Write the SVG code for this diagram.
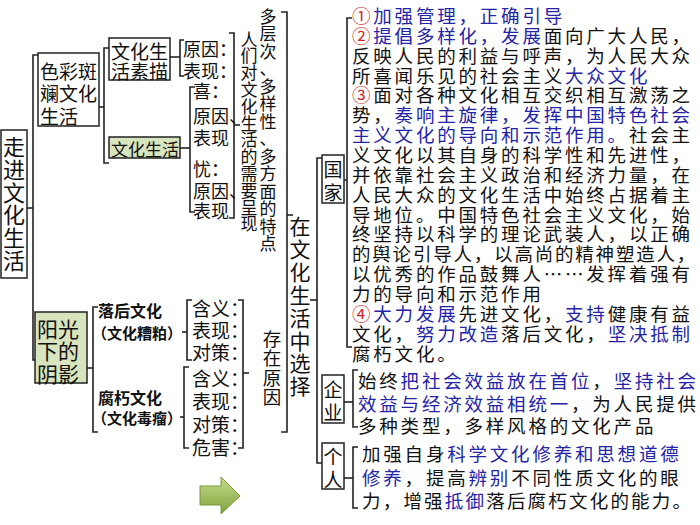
<svg xmlns="http://www.w3.org/2000/svg" width="700" height="525" viewBox="0 0 700 525">
<style>
.ln{fill:none;stroke:#222;stroke-width:1.6}
.box{fill:#fff;stroke:#222;stroke-width:1.5}
.gbox{fill:#d7e4bd;stroke:#222;stroke-width:1.5}
text{font-family:"Noto Sans CJK SC","Noto Sans CJK JP",sans-serif;fill:#111;dominant-baseline:central}
.v{text-anchor:middle}
.p{font-size:18.5px;letter-spacing:2.8px}
.pt{font-size:18.5px;letter-spacing:2.2px}
.pn{font-size:18.5px;letter-spacing:1.8px}
.b{fill:#2424a8}
.r{fill:#d02828}
.k{font-weight:bold}
</style>
<defs>
<linearGradient id="ga" x1="0" y1="0" x2="0" y2="1">
<stop offset="0" stop-color="#c6dc8e"/>
<stop offset="1" stop-color="#7fa33a"/>
</linearGradient>
</defs>
<rect width="700" height="525" fill="#fff"/>

<g id="connectors">
<path class="ln" d="M38 55 H33 V360 H36"/>
<path class="ln" d="M27 208 H33"/>
<path class="ln" d="M99 107 H104"/>
<path class="ln" d="M109 48 H104 V163 H109"/>
<path class="ln" d="M170 57 H180"/>
<path class="ln" d="M184 40 H180 V76 H184"/>
<path class="ln" d="M180 148 H190"/>
<path class="ln" d="M195 87 H190 V212 H195"/>
<path class="ln" d="M229 33 H234 V218 H229"/>
<path class="ln" d="M234 125 H240"/>
<path class="ln" d="M281 12 H287 V432 H281"/>
<path class="ln" d="M287 215 H293"/>
<path class="ln" d="M310 300 H317"/>
<path class="ln" d="M322 158 H317 V463 H322"/>
<path class="ln" d="M352 18 H347 V347 H352"/>
<path class="ln" d="M344 180 H347"/>
<path class="ln" d="M358 370 H353 V427 H358"/>
<path class="ln" d="M344 402 H353"/>
<path class="ln" d="M358 447 H353 V508 H358"/>
<path class="ln" d="M344 478 H353"/>
<path class="ln" d="M87 368 H93"/>
<path class="ln" d="M98 307 H93 V432 H98"/>
<path class="ln" d="M182 332 H187"/>
<path class="ln" d="M192 300 H187 V360 H192"/>
<path class="ln" d="M180 417 H184"/>
<path class="ln" d="M189 367 H184 V448 H189"/>
<path class="ln" d="M238 300 H243 V448 H238"/>
<path class="ln" d="M243 373 H249"/>
</g>

<g id="title">
<rect class="box" x="1" y="130" width="26" height="148"/>
<text class="v" font-size="22" x="14 14 14 14 14 14" y="145 168 191 213 236 259">走进文化生活</text>
</g>

<g id="secai">
<rect class="box" x="38" y="53" width="61" height="73"/>
<text font-size="19" x="40" y="70">色彩斑</text>
<text font-size="19" x="40" y="92">斓文化</text>
<text font-size="19" x="40" y="115">生活</text>
</g>

<g id="sumiao">
<rect class="box" x="109" y="38" width="61" height="42"/>
<text font-size="19" x="111" y="50">文化生</text>
<text font-size="19" x="111" y="70">活素描</text>
</g>

<g id="sumiao-items">
<text font-size="18" x="183" y="48">原因：</text>
<text font-size="18" x="183" y="70">表现：</text>
</g>

<g id="wenhuashenghuo">
<rect class="gbox" x="109" y="137" width="71" height="21"/>
<text font-size="17" x="111" y="148">文化生活</text>
</g>

<g id="xiyou">
<text font-size="18" x="193" y="90">喜：</text>
<text font-size="18" x="193" y="115">原因、</text>
<text font-size="18" x="193" y="137">表现</text>
<text font-size="18" x="193" y="168">忧：</text>
<text font-size="18" x="193" y="190">原因、</text>
<text font-size="18" x="193" y="210">表现</text>
</g>

<g id="xuyao">
<text class="v" font-size="17" x="249 249 249 249 249 249 249 249 249 249 249 249" y="38 54.8 71.6 88.4 105.2 122 138.8 155.6 172.4 189.2 206 222.8">人们对文化生活的需要呈现</text>
</g>

<g id="tedian">
<text class="v" font-size="17" x="268 268 268 268 268 268 268 268 268 268 268 268 268 268" y="15 32.5 50 67.5 85 102.5 120 137.5 155 172.5 190 207.5 225 242.5">多层次、多样性、多方面的特点</text>
</g>

<g id="cunzai">
<text class="v" font-size="18.5" x="272 272 272 272" y="338 357.3 376.6 396">存在原因</text>
</g>

<g id="xuanze">
<text class="v" font-size="21" x="300 300 300 300 300 300 300 300" y="225 247.9 270.8 293.7 316.6 339.5 362.4 385.3">在文化生活中选择</text>
</g>

<g id="yangguang">
<rect class="gbox" x="35" y="312" width="52" height="71"/>
<text font-size="21" x="37" y="328">阳光</text>
<text font-size="21" x="37" y="350">下的</text>
<text font-size="21" x="37" y="373">阴影</text>
</g>

<g id="luohou">
<text class="k" font-size="16" x="98" y="310">落后文化</text>
<text class="k" font-size="15" x="92" y="332">（文化糟粕）</text>
<text font-size="19" x="192" y="307">含义：</text>
<text font-size="19" x="192" y="329">表现：</text>
<text font-size="19" x="192" y="351">对策：</text>
</g>

<g id="fuxiu">
<text class="k" font-size="16" x="98" y="397">腐朽文化</text>
<text class="k" font-size="15" x="92" y="417">（文化毒瘤）</text>
<text font-size="19" x="192" y="377">含义：</text>
<text font-size="19" x="192" y="400">表现：</text>
<text font-size="19" x="192" y="423">对策：</text>
<text font-size="19" x="192" y="446">危害：</text>
</g>

<g id="guojia">
<rect class="box" x="322" y="155" width="22" height="48"/>
<text class="v" font-size="19" x="333" y="168">国</text>
<text class="v" font-size="19" x="333" y="191">家</text>
</g>

<g id="qiye">
<rect class="box" x="322" y="375" width="22" height="48"/>
<text class="v" font-size="19" x="333" y="388">企</text>
<text class="v" font-size="19" x="333" y="411">业</text>
</g>

<g id="geren">
<rect class="box" x="322" y="443" width="22" height="46"/>
<text class="v" font-size="19" x="333" y="455">个</text>
<text class="v" font-size="19" x="333" y="478">人</text>
</g>

<g id="guojia-text">
<text class="p" x="352" y="15"><tspan class="r">①</tspan><tspan class="b">加强管理，正确引导</tspan></text>
<text class="p" x="352" y="35"><tspan class="r">②</tspan><tspan class="b">提倡多样化，发展</tspan>面向广大人民，</text>
<text class="p" x="352" y="55">反映人民的利益与呼声，为人民大众</text>
<text class="p" x="352" y="74.5">所喜闻乐见的社会主义<tspan class="b">大众文化</tspan></text>
<text class="p" x="352" y="94.4"><tspan class="r">③</tspan>面对各种文化相互交织相互激荡之</text>
<text class="p" x="352" y="114.2">势，<tspan class="b">奏响主旋律，发挥中国特色社会</tspan></text>
<text class="p" x="352" y="134.1"><tspan class="b">主义文化的导向和示范作用。</tspan>社会主</text>
<text class="p" x="352" y="154">义文化以其自身的科学性和先进性，</text>
<text class="p" x="352" y="173.8">并依靠社会主义政治和经济力量，在</text>
<text class="p" x="352" y="193.6">人民大众的文化生活中始终占据着主</text>
<text class="p" x="352" y="213.5">导地位。中国特色社会主义文化，始</text>
<text class="p" x="352" y="233.3">终坚持以科学的理论武装人，以正确</text>
<text class="pn" x="352" y="253.2">的舆论引导人，以高尚的精神塑造人，</text>
<text class="p" x="352" y="273">以优秀的作品鼓舞人……发挥着强有</text>
<text class="p" x="352" y="292.9">力的导向和示范作用</text>
<text class="p" x="352" y="312.8"><tspan class="r">④</tspan><tspan class="b">大力发展</tspan>先进文化，<tspan class="b">支持</tspan>健康有益</text>
<text class="p" x="352" y="332.6">文化，<tspan class="b">努力改造</tspan>落后文化，<tspan class="b">坚决抵制</tspan></text>
<text class="p" x="352" y="352.5">腐朽文化。</text>
</g>

<g id="qiye-text">
<text class="p" x="358" y="380">始终<tspan class="b">把社会效益放在首位</tspan>，<tspan class="b">坚持社会</tspan></text>
<text class="p" x="358" y="402.5"><tspan class="b">效益与经济效益相统一</tspan>，为人民提供</text>
<text class="p" x="358" y="425">多种类型，多样风格的文化产品</text>
</g>

<g id="geren-text">
<text class="p" x="362" y="453">加强自身<tspan class="b">科学文化修养和思想道德</tspan></text>
<text class="p" x="362" y="477"><tspan class="b">修养</tspan>，提高<tspan class="b">辨别</tspan>不同性质文化的眼</text>
<text class="pt" x="362" y="500">力，增强<tspan class="b">抵御</tspan>落后腐朽文化的能力。</text>
</g>

<g id="arrow">
<path d="M200 486 H221 V477 L240 496 L221 514 V505 H200 Z" fill="url(#ga)" stroke="#7a9a3a" stroke-width="1"/>
</g>
</svg>
